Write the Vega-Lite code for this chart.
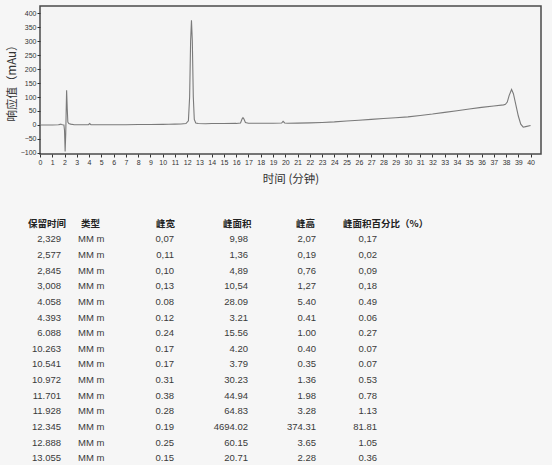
{
  "$schema": "https://vega.github.io/schema/vega-lite/v6.json",
  "background": "#f6f6f6",
  "padding": {"left": 5, "top": 5, "right": 10, "bottom": 0},
  "spacing": 30,
  "config": {
    "font": "Liberation Sans",
    "axis": {
      "grid": false,
      "domain": false,
      "labelFont": "Liberation Sans",
      "labelFontSize": 7,
      "labelColor": "#333333",
      "tickColor": "#333333",
      "tickSize": 3,
      "labelPadding": 1,
      "titleFont": "Noto Sans CJK SC",
      "titleFontSize": 11.5,
      "titleFontWeight": "normal",
      "titleColor": "#333333"
    },
    "text": {"font": "Liberation Sans", "fontSize": 9.5, "color": "#3a3a3a", "baseline": "middle"}
  },
  "vconcat": [
    {
      "width": 501,
      "height": 148,
      "view": {"stroke": "#4a4a4a", "strokeWidth": 1.5, "fill": "#f4f4f4"},
      "data": {
        "values": [
          {"t": 0, "v": 0}, {"t": 1.0, "v": 0}, {"t": 1.5, "v": 0.5}, {"t": 1.65, "v": 2},
          {"t": 1.7, "v": 3}, {"t": 1.75, "v": 2}, {"t": 1.85, "v": 0.5}, {"t": 1.95, "v": 0},
          {"t": 2.0, "v": -20}, {"t": 2.05, "v": -95}, {"t": 2.1, "v": -30}, {"t": 2.13, "v": 40},
          {"t": 2.17, "v": 124}, {"t": 2.22, "v": 60}, {"t": 2.27, "v": 10}, {"t": 2.35, "v": 5},
          {"t": 2.5, "v": 3}, {"t": 2.8, "v": 1}, {"t": 3.0, "v": 1}, {"t": 3.5, "v": 0.5},
          {"t": 3.95, "v": 1}, {"t": 4.05, "v": 5}, {"t": 4.15, "v": 1}, {"t": 5, "v": 0.5},
          {"t": 6, "v": 0.5}, {"t": 7, "v": 1}, {"t": 8, "v": 1.5}, {"t": 9, "v": 1.5},
          {"t": 10, "v": 2}, {"t": 10.5, "v": 2.5}, {"t": 11, "v": 3}, {"t": 11.5, "v": 3.5},
          {"t": 11.9, "v": 5}, {"t": 12.1, "v": 15}, {"t": 12.2, "v": 100}, {"t": 12.28, "v": 300},
          {"t": 12.35, "v": 375}, {"t": 12.42, "v": 300}, {"t": 12.5, "v": 100}, {"t": 12.58, "v": 20},
          {"t": 12.7, "v": 7}, {"t": 12.9, "v": 5}, {"t": 13.5, "v": 4.5}, {"t": 14, "v": 5},
          {"t": 15, "v": 5}, {"t": 16, "v": 5.5}, {"t": 16.35, "v": 7}, {"t": 16.48, "v": 22},
          {"t": 16.55, "v": 26}, {"t": 16.62, "v": 22}, {"t": 16.75, "v": 9}, {"t": 17, "v": 6},
          {"t": 18, "v": 6}, {"t": 19, "v": 6}, {"t": 19.7, "v": 7}, {"t": 19.82, "v": 13},
          {"t": 19.95, "v": 7}, {"t": 20.2, "v": 6}, {"t": 21, "v": 6.5}, {"t": 22, "v": 7.5},
          {"t": 23, "v": 9}, {"t": 24, "v": 11}, {"t": 25, "v": 14}, {"t": 26, "v": 17},
          {"t": 27, "v": 20}, {"t": 28, "v": 23}, {"t": 29, "v": 26}, {"t": 30, "v": 29},
          {"t": 31, "v": 34}, {"t": 32, "v": 39}, {"t": 33, "v": 45}, {"t": 34, "v": 51},
          {"t": 35, "v": 57}, {"t": 36, "v": 63}, {"t": 37, "v": 68}, {"t": 37.8, "v": 72},
          {"t": 37.95, "v": 74}, {"t": 38.1, "v": 82}, {"t": 38.25, "v": 105}, {"t": 38.45, "v": 127},
          {"t": 38.6, "v": 112}, {"t": 38.8, "v": 72}, {"t": 39.0, "v": 32}, {"t": 39.2, "v": 3},
          {"t": 39.4, "v": -8}, {"t": 39.6, "v": -6}, {"t": 40.0, "v": -2}
        ]
      },
      "mark": {"type": "line", "color": "#7a7a7a", "strokeWidth": 1.1},
      "encoding": {
        "x": {
          "field": "t",
          "type": "quantitative",
          "scale": {"domain": [0, 40.85], "nice": false, "zero": false},
          "axis": {
            "title": "时间 (分钟)",
            "titlePadding": 8,
            "values": [0, 1, 2, 3, 4, 5, 6, 7, 8, 9, 10, 11, 12, 13, 14, 15, 16, 17, 18, 19, 20, 21, 22, 23, 24, 25, 26, 27, 28, 29, 30, 31, 32, 33, 34, 35, 36, 37, 38, 39, 40],
            "labelOverlap": false,
            "labelFlush": false
          }
        },
        "y": {
          "field": "v",
          "type": "quantitative",
          "scale": {"domain": [-104, 426], "nice": false, "zero": false},
          "axis": {
            "title": "响应值（mAu）",
            "titlePadding": 3,
            "values": [-100, -50, 0, 50, 100, 150, 200, 250, 300, 350, 400],
            "labelOverlap": false,
            "labelFlush": false
          }
        }
      }
    },
    {
      "width": 340,
      "height": 250,
      "view": {"stroke": null},
      "data": {
        "values": [
          {"n": 1, "rt": "2,329", "kind": "MM m", "w": "0,07", "area": "9,98", "h": "2,07", "pct": "0,17"},
          {"n": 2, "rt": "2,577", "kind": "MM m", "w": "0,11", "area": "1,36", "h": "0,19", "pct": "0,02"},
          {"n": 3, "rt": "2,845", "kind": "MM m", "w": "0,10", "area": "4,89", "h": "0,76", "pct": "0,09"},
          {"n": 4, "rt": "3,008", "kind": "MM m", "w": "0,13", "area": "10,54", "h": "1,27", "pct": "0,18"},
          {"n": 5, "rt": "4.058", "kind": "MM m", "w": "0.08", "area": "28.09", "h": "5.40", "pct": "0.49"},
          {"n": 6, "rt": "4.393", "kind": "MM m", "w": "0.12", "area": "3.21", "h": "0.41", "pct": "0.06"},
          {"n": 7, "rt": "6.088", "kind": "MM m", "w": "0.24", "area": "15.56", "h": "1.00", "pct": "0.27"},
          {"n": 8, "rt": "10.263", "kind": "MM m", "w": "0.17", "area": "4.20", "h": "0.40", "pct": "0.07"},
          {"n": 9, "rt": "10.541", "kind": "MM m", "w": "0.17", "area": "3.79", "h": "0.35", "pct": "0.07"},
          {"n": 10, "rt": "10.972", "kind": "MM m", "w": "0.31", "area": "30.23", "h": "1.36", "pct": "0.53"},
          {"n": 11, "rt": "11.701", "kind": "MM m", "w": "0.38", "area": "44.94", "h": "1.98", "pct": "0.78"},
          {"n": 12, "rt": "11.928", "kind": "MM m", "w": "0.28", "area": "64.83", "h": "3.28", "pct": "1.13"},
          {"n": 13, "rt": "12.345", "kind": "MM m", "w": "0.19", "area": "4694.02", "h": "374.31", "pct": "81.81"},
          {"n": 14, "rt": "12.888", "kind": "MM m", "w": "0.25", "area": "60.15", "h": "3.65", "pct": "1.05"},
          {"n": 15, "rt": "13.055", "kind": "MM m", "w": "0.15", "area": "20.71", "h": "2.28", "pct": "0.36"}
        ]
      },
      "encoding": {
        "y": {
          "field": "n",
          "type": "ordinal",
          "scale": {"type": "point", "domain": [0, 1, 2, 3, 4, 5, 6, 7, 8, 9, 10, 11, 12, 13, 14, 15], "padding": 0.5},
          "axis": null
        }
      },
      "layer": [
        {
          "mark": {"type": "text", "align": "right", "dx": 21},
          "encoding": {
            "x": {"datum": "保留时间", "type": "nominal", "scale": {"type": "point", "domain": ["保留时间", "类型", "峰宽", "峰面积", "峰高", "峰面积百分比"], "padding": 0}, "axis": null},
            "text": {"field": "rt"}
          }
        },
        {
          "mark": {"type": "text", "align": "left", "dx": -30},
          "encoding": {"x": {"datum": "类型", "type": "nominal"}, "text": {"field": "kind"}}
        },
        {
          "mark": {"type": "text", "align": "right", "dx": -2},
          "encoding": {"x": {"datum": "峰宽", "type": "nominal"}, "text": {"field": "w"}}
        },
        {
          "mark": {"type": "text", "align": "right", "dx": 4},
          "encoding": {"x": {"datum": "峰面积", "type": "nominal"}, "text": {"field": "area"}}
        },
        {
          "mark": {"type": "text", "align": "right", "dx": 4},
          "encoding": {"x": {"datum": "峰高", "type": "nominal"}, "text": {"field": "h"}}
        },
        {
          "mark": {"type": "text", "align": "right", "dx": -3},
          "encoding": {"x": {"datum": "峰面积百分比", "type": "nominal"}, "text": {"field": "pct"}}
        },
        {
          "data": {
            "values": [
              {"n": 0, "col": "保留时间", "label": "保留时间"},
              {"n": 0, "col": "类型", "label": "类型"},
              {"n": 0, "col": "峰宽", "label": "峰宽"},
              {"n": 0, "col": "峰面积", "label": "峰面积"},
              {"n": 0, "col": "峰高", "label": "峰高"},
              {"n": 0, "col": "峰面积百分比", "label": "峰面积百分比（%）"}
            ]
          },
          "transform": [{"filter": "datum.col === '保留时间'"}],
          "mark": {"type": "text", "align": "left", "dx": -12, "font": "Noto Sans CJK SC", "fontWeight": "bold", "color": "#222222"},
          "encoding": {"x": {"field": "col", "type": "nominal"}, "text": {"field": "label"}}
        },
        {
          "data": {"values": [{"n": 0, "col": "类型", "label": "类型"}]},
          "mark": {"type": "text", "align": "left", "dx": -27, "font": "Noto Sans CJK SC", "fontWeight": "bold", "color": "#222222"},
          "encoding": {"x": {"field": "col", "type": "nominal"}, "text": {"field": "label"}}
        },
        {
          "data": {"values": [{"n": 0, "col": "峰宽", "label": "峰宽"}]},
          "mark": {"type": "text", "align": "left", "dx": -20, "font": "Noto Sans CJK SC", "fontWeight": "bold", "color": "#222222"},
          "encoding": {"x": {"field": "col", "type": "nominal"}, "text": {"field": "label"}}
        },
        {
          "data": {"values": [{"n": 0, "col": "峰面积", "label": "峰面积"}]},
          "mark": {"type": "text", "align": "left", "dx": -21, "font": "Noto Sans CJK SC", "fontWeight": "bold", "color": "#222222"},
          "encoding": {"x": {"field": "col", "type": "nominal"}, "text": {"field": "label"}}
        },
        {
          "data": {"values": [{"n": 0, "col": "峰高", "label": "峰高"}]},
          "mark": {"type": "text", "align": "left", "dx": -16, "font": "Noto Sans CJK SC", "fontWeight": "bold", "color": "#222222"},
          "encoding": {"x": {"field": "col", "type": "nominal"}, "text": {"field": "label"}}
        },
        {
          "data": {"values": [{"n": 0, "col": "峰面积百分比", "label": "峰面积百分比（%）"}]},
          "mark": {"type": "text", "align": "left", "dx": -37, "font": "Noto Sans CJK SC", "fontWeight": "bold", "color": "#222222"},
          "encoding": {"x": {"field": "col", "type": "nominal"}, "text": {"field": "label"}}
        }
      ]
    }
  ]
}
